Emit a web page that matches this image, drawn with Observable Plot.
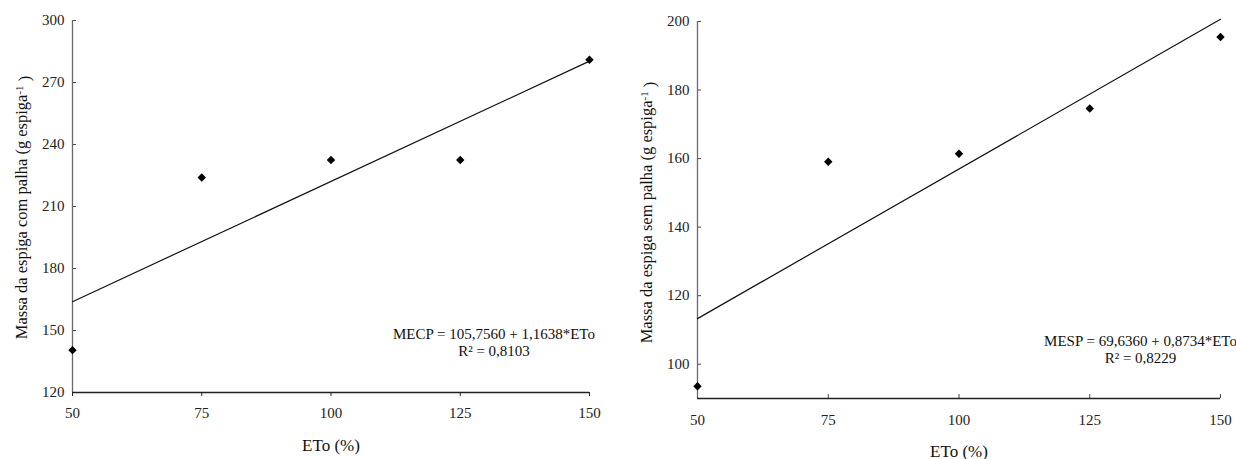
<!DOCTYPE html>
<html><head><meta charset="utf-8">
<script src="https://cdn.jsdelivr.net/npm/d3@7"></script>
<script src="https://cdn.jsdelivr.net/npm/@observablehq/plot@0.6"></script>
<style>
body{margin:0;background:#fff;width:1236px;height:459px;position:relative;overflow:hidden;font-family:"Liberation Serif",serif}
#left{position:absolute;left:0;top:0}
#right{position:absolute;left:620px;top:0}
svg, svg text, svg g {font-family:"Liberation Serif", "Times New Roman", serif !important;}
</style></head><body>
<div id="left"></div><div id="right"></div>
<script>
// ---- data ----
const eto = [50, 75, 100, 125, 150];
const mecp = [140.5, 224.0, 232.5, 232.5, 281.0];
const mesp = [93.6, 159.1, 161.4, 174.6, 195.5];
const mecpCoef = [105.7560, 1.1638];
const mespCoef = [69.6360, 0.8734];
const xTicks = [50, 75, 100, 125, 150];
const yTicksLeft = [120, 150, 180, 210, 240, 270, 300];
const yTicksRight = [100, 120, 140, 160, 180, 200];
const eqLeft = ["MECP = 105,7560 + 1,1638*ETo", "R² = 0,8103"];
const eqRight = ["MESP = 69,6360 + 0,8734*ETo", "R² = 0,8229"];
const yTitleLeft = ["Massa da espiga com palha (g espiga", "-1", " )"];
const yTitleRight = ["Massa da espiga sem palha (g espiga", "-1", " )"];
const xTitle = "ETo (%)";

function panel(o) {
  const pts = eto.map((x, i) => ({x, y: o.vals[i]}));
  const fit = [eto[0], eto[eto.length - 1]].map(x => ({x, y: o.coef[0] + o.coef[1] * x}));
  const innerW = o.width - o.ml - o.mr;
  const innerH = 459 - o.mt - o.mb;
  const svg = Plot.plot({
    width: o.width, height: 459,
    marginLeft: o.ml, marginRight: o.mr, marginTop: o.mt, marginBottom: o.mb,
    style: {fontFamily: '"Liberation Serif", serif', fontSize: "15px", color: "#222", background: "#fff", overflow: "visible"},
    x: {domain: [50, 150]},
    y: {domain: o.yDomain},
    marks: [
      Plot.axisY({ticks: o.yTicks, tickSize: 0, tickPadding: 8, label: null, tickFormat: d => d}),
      Plot.tickY(o.yTicks, {y: d => d, insetRight: innerW - 4, stroke: "#444"}),
      Plot.axisX({ticks: xTicks, tickSize: o.xTickOut ? 4 : 0, tickPadding: o.xPad, label: null, tickFormat: d => d}),
      o.xTickOut ? null : Plot.tickX(xTicks, {x: d => d, insetTop: innerH - 4, stroke: "#444"}),
      Plot.ruleX([50], {stroke: "#6a6a6a", strokeWidth: 1.3}),
      Plot.ruleY([o.yDomain[0]], {stroke: "#222", strokeWidth: 1.3}),
      Plot.line(fit, {x: "x", y: "y", stroke: "#111", strokeWidth: 1.2}),
      Plot.dot(pts, {x: "x", y: "y", symbol: "diamond2", r: 3.8, fill: "#000", stroke: "none"}),
      Plot.text([o.eq[0]], {text: d => d, frameAnchor: "bottom-right", textAnchor: "middle", lineAnchor: "middle", dx: o.eqDx, dy: o.eqDy1, fontSize: 15, fill: "#111"}),
      Plot.text([o.eq[1]], {text: d => d, frameAnchor: "bottom-right", textAnchor: "middle", lineAnchor: "middle", dx: o.eqDx, dy: o.eqDy2, fontSize: 15, fill: "#111"}),
      Plot.text([xTitle], {text: d => d, frameAnchor: "bottom", textAnchor: "middle", lineAnchor: "middle", dy: 53, fontSize: 17, fill: "#111"}),
      Plot.text([o.yTitle.join("")], {text: d => d, frameAnchor: "left", textAnchor: "middle", lineAnchor: "middle", rotate: -90, dx: -50.3, dy: o.yTitleDy, fontSize: 16.5, fill: "#111", className: "ytitle"})
    ].filter(Boolean)
  });
  // superscript in y title
  const t = svg.querySelector("g.ytitle text");
  if (t) {
    t.textContent = "";
    const ns = "http://www.w3.org/2000/svg";
    const a = document.createElementNS(ns, "tspan"); a.textContent = o.yTitle[0];
    const b = document.createElementNS(ns, "tspan"); b.textContent = o.yTitle[1];
    b.setAttribute("dy", "-0.45em"); b.setAttribute("font-size", "11");
    const c = document.createElementNS(ns, "tspan"); c.textContent = o.yTitle[2];
    c.setAttribute("dy", "0.45em");
    t.append(a, b, c);
  }
  return svg;
}

document.getElementById("left").append(panel({
  vals: mecp, coef: mecpCoef, yDomain: [120, 300], yTicks: yTicksLeft,
  width: 610, ml: 72, mr: 21, mt: 20, mb: 67, xTickOut: true, xPad: 11,
  eq: eqLeft, eqDx: -95.5, eqDy1: -58, eqDy2: -41, yTitle: yTitleLeft, yTitleDy: 1
}));
document.getElementById("right").append(panel({
  vals: mesp, coef: mespCoef, yDomain: [90, 200], yTicks: yTicksRight,
  width: 616, ml: 77, mr: 16, mt: 21, mb: 61, xTickOut: false, xPad: 16,
  eq: eqRight, eqDx: -80, eqDy1: -57.6, eqDy2: -40.3, yTitle: yTitleRight, yTitleDy: 2.5
}));
</script>
</body></html>
